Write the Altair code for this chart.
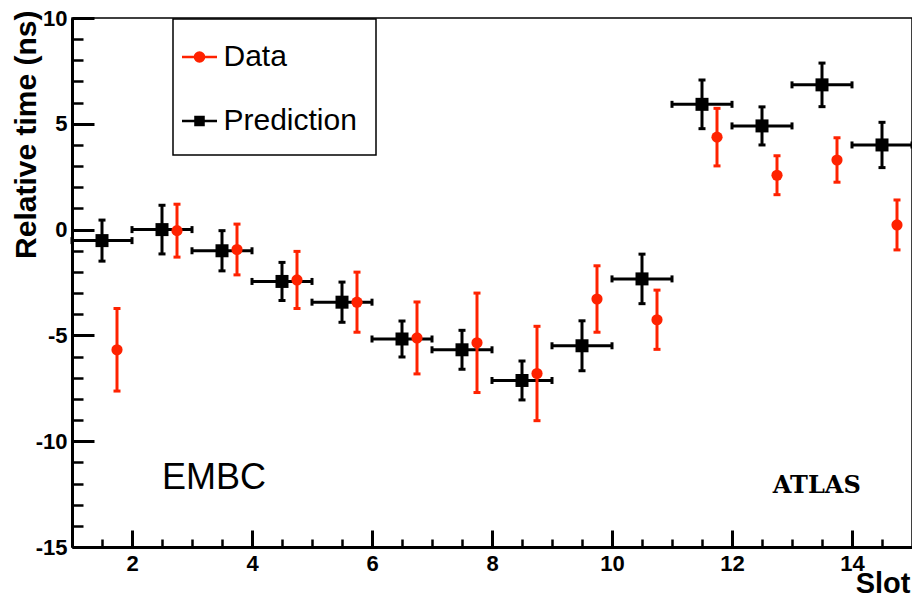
import altair as alt
import pandas as pd

# ---- values ----
pred_slot = [1.5, 2.5, 3.5, 4.5, 5.5, 6.5, 7.5, 8.5, 9.5, 10.5, 11.5, 12.5, 13.5, 14.5]
pred_val = [-0.52, 0.0, -1.0, -2.45, -3.43, -5.17, -5.68, -7.13, -5.49, -2.33, 5.92, 4.9, 6.84, 4.0]
pred_err = [0.97, 1.15, 0.95, 0.9, 0.95, 0.85, 0.92, 0.92, 1.18, 1.17, 1.15, 0.9, 1.03, 1.07]
pred_xerr = [0.5] * 14

data_slot = [1.75, 2.75, 3.75, 4.75, 5.75, 6.75, 7.75, 8.75, 9.75, 10.75, 11.75, 12.75, 13.75, 14.75]
data_val = [-5.68, -0.05, -0.94, -2.38, -3.43, -5.12, -5.35, -6.8, -3.28, -4.26, 4.37, 2.57, 3.29, 0.22]
data_err = [1.95, 1.25, 1.2, 1.35, 1.42, 1.7, 2.35, 2.23, 1.57, 1.4, 1.36, 0.92, 1.05, 1.18]

series = ["Data", "Prediction"]
x_major = [2, 4, 6, 8, 10, 12, 14]
x_minor = [v / 2 for v in range(3, 30) if v % 4 != 0]
y_major = [-15, -10, -5, 0, 5, 10]
y_minor = [v for v in range(-14, 10) if v % 5 != 0]

RED = "#ff2200"
BLACK = "#000000"
FONT = "Liberation Sans"

pred_df = pd.DataFrame({
    "slot": pred_slot, "val": pred_val,
    "lo": [v - e for v, e in zip(pred_val, pred_err)],
    "hi": [v + e for v, e in zip(pred_val, pred_err)],
    "xlo": [s - e for s, e in zip(pred_slot, pred_xerr)],
    "xhi": [s + e for s, e in zip(pred_slot, pred_xerr)],
})
data_df = pd.DataFrame({
    "slot": data_slot, "val": data_val,
    "lo": [v - e for v, e in zip(data_val, data_err)],
    "hi": [v + e for v, e in zip(data_val, data_err)],
})
legend_df = pd.DataFrame({
    "series": series,
    "slot": [data_slot[0], pred_slot[0]],
    "val": [data_val[0], pred_val[0]],
})
embc_df = pd.DataFrame({"x": [2.5], "y": [-12.26], "t": ["EMBC"]})
atlas_df = pd.DataFrame({"x": [12.68], "y": [-12.45], "t": ["ATLAS"]})

W, H = 840, 529
xs = alt.Scale(domain=[1, 15], nice=False, zero=False)
ys = alt.Scale(domain=[-15, 10], nice=False, zero=False)
LBL = "'' + datum.value"

AX_MAIN = alt.Axis(
    orient="bottom", values=x_major, ticks=False, tickSize=0, grid=False,
    labelFont=FONT, labelFontSize=22, labelFontWeight="bold", labelColor="black",
    labelPadding=6, labelFlush=False, labelOverlap=False, labelExpr=LBL,
    domainColor="black", domainWidth=3,
    title="Slot", titleFont=FONT, titleFontSize=29, titleFontWeight="bold",
    titleColor="black", titleAngle=0, titleAlign="right", titleBaseline="alphabetic",
    titleX=838, titleY=45,
)
AY_MAIN = alt.Axis(
    orient="left", values=y_major, ticks=False, tickSize=0, grid=False,
    labelFont=FONT, labelFontSize=22, labelFontWeight="bold", labelColor="black",
    labelPadding=5, labelOverlap=False, labelExpr=LBL,
    domainColor="black", domainWidth=3,
    title="Relative time (ns)", titleFont=FONT, titleFontSize=30, titleFontWeight="bold",
    titleColor="black", titleAngle=270, titleAlign="right", titleBaseline="alphabetic",
    titleX=-37, titleY=-8,
)
AX_TMAJ = alt.Axis(orient="top", offset=-H, values=x_major, tickSize=17, tickWidth=3,
                   tickColor="black", labels=False, domain=False, grid=False, title=None)
AX_TMIN = alt.Axis(orient="top", offset=-H, values=x_minor, tickSize=8, tickWidth=2.5,
                   tickColor="black", labels=False, domain=False, grid=False, title=None)
AY_TMAJ = alt.Axis(orient="right", offset=-W, values=y_major, tickSize=22, tickWidth=3,
                   tickColor="black", labels=False, domain=False, grid=False, title=None)
AY_TMIN = alt.Axis(orient="right", offset=-W, values=y_minor, tickSize=11, tickWidth=2.5,
                   tickColor="black", labels=False, domain=False, grid=False, title=None)

# prediction
p_h = alt.Chart(pred_df).mark_rule(color=BLACK, strokeWidth=3).encode(
    x=alt.X("xlo:Q", scale=xs, axis=AX_MAIN), x2="xhi:Q",
    y=alt.Y("val:Q", scale=ys, axis=AY_MAIN),
)
p_v = alt.Chart(pred_df).mark_rule(color=BLACK, strokeWidth=3).encode(
    x=alt.X("slot:Q", scale=xs, axis=AX_TMAJ),
    y=alt.Y("lo:Q", scale=ys, axis=AY_TMAJ), y2="hi:Q",
)
p_capx = alt.Chart(pred_df).transform_fold(["xlo", "xhi"], as_=["k", "v"]).mark_tick(
    color=BLACK, orient="vertical", size=7, thickness=3, opacity=1
).encode(
    x=alt.X("v:Q", scale=xs, axis=AX_TMIN),
    y=alt.Y("val:Q", scale=ys, axis=AY_TMIN),
)
p_capy = alt.Chart(pred_df).transform_fold(["lo", "hi"], as_=["k", "v"]).mark_tick(
    color=BLACK, orient="horizontal", size=7, thickness=3, opacity=1
).encode(
    x=alt.X("slot:Q", scale=xs, axis=None),
    y=alt.Y("v:Q", scale=ys, axis=None),
)
p_pts = alt.Chart(pred_df).mark_point(shape="square", filled=True, size=169, color=BLACK, opacity=1).encode(
    x=alt.X("slot:Q", scale=xs, axis=None),
    y=alt.Y("val:Q", scale=ys, axis=None),
)

# data
d_v = alt.Chart(data_df).mark_rule(color=RED, strokeWidth=3).encode(
    x=alt.X("slot:Q", scale=xs, axis=None),
    y=alt.Y("lo:Q", scale=ys, axis=None), y2="hi:Q",
)
d_cap = alt.Chart(data_df).transform_fold(["lo", "hi"], as_=["k", "v"]).mark_tick(
    color=RED, orient="horizontal", size=7, thickness=3, opacity=1
).encode(
    x=alt.X("slot:Q", scale=xs, axis=None),
    y=alt.Y("v:Q", scale=ys, axis=None),
)
d_pts = alt.Chart(data_df).mark_point(shape="circle", filled=True, size=125, color=RED, opacity=1).encode(
    x=alt.X("slot:Q", scale=xs, axis=None),
    y=alt.Y("val:Q", scale=ys, axis=None),
)

# legend helper (invisible marks, visible legend)
DATA_SYM = "M-1,0L1,0M0.26,0A0.26,0.26,0,1,1,-0.26,0A0.26,0.26,0,1,1,0.26,0Z"
PRED_SYM = "M-1,0L1,0M-0.23,-0.23L0.23,-0.23L0.23,0.23L-0.23,0.23Z"
leg = alt.Legend(
    orient="none", legendX=101, legendY=1, title=None,
    padding=19, rowPadding=30, symbolSize=1225, symbolStrokeWidth=2.5,
    symbolOffset=-11.5, labelOffset=5, symbolOpacity=1,
    labelFont=FONT, labelFontSize=30, labelColor="black", labelLimit=300,
    strokeColor="black", fillColor="white",
)
legend_layer = alt.Chart(legend_df).mark_point(filled=True, opacity=0).encode(
    x=alt.X("slot:Q", scale=xs, axis=None),
    y=alt.Y("val:Q", scale=ys, axis=None),
    fill=alt.Fill("series:N", scale=alt.Scale(domain=series, range=[RED, BLACK]), legend=leg),
    stroke=alt.Stroke("series:N", scale=alt.Scale(domain=series, range=[RED, BLACK]), legend=leg),
    shape=alt.Shape("series:N", scale=alt.Scale(domain=series, range=[DATA_SYM, PRED_SYM]), legend=leg),
)

embc = alt.Chart(embc_df).mark_text(
    align="left", baseline="alphabetic", font=FONT, fontSize=36, color="black"
).encode(x=alt.X("x:Q", scale=xs, axis=None), y=alt.Y("y:Q", scale=ys, axis=None), text="t:N")
atlas = alt.Chart(atlas_df).mark_text(
    align="left", baseline="alphabetic", font="DejaVu Serif", fontSize=24,
    fontWeight="bold", color="black"
).encode(x=alt.X("x:Q", scale=xs, axis=None), y=alt.Y("y:Q", scale=ys, axis=None), text="t:N")

chart = alt.layer(
    p_h, p_v, p_capx, p_capy, d_v, d_cap, p_pts, d_pts, legend_layer, embc, atlas
).resolve_axis(x="independent", y="independent").properties(
    width=W, height=H,
    autosize=alt.AutoSizeParams(type="none"),
    padding={"left": 64, "top": 10, "right": 0, "bottom": 46},
    background="white",
).configure_view(stroke="black", strokeWidth=1.5).configure_legend(strokeWidth=1.5)

chart.save("out.html", embed_options={"renderer": "svg", "actions": False})
